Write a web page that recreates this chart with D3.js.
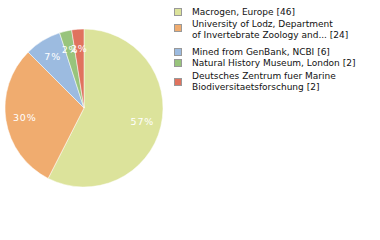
<!DOCTYPE html>
<html>
<head>
<meta charset="utf-8">
<script src="https://cdn.jsdelivr.net/npm/d3@7"></script>
<style>
  body { margin: 0; background: #fff; }
  text { font-family: "DejaVu Sans", sans-serif; }
</style>
</head>
<body>
<script>
width = 380
height = 240

// data
labels = [
  ["Macrogen, Europe [46]"],
  ["University of Lodz, Department", "of Invertebrate Zoology and... [24]"],
  ["Mined from GenBank, NCBI [6]"],
  ["Natural History Museum, London [2]"],
  ["Deutsches Zentrum fuer Marine", "Biodiversitaetsforschung [2]"]
]
counts = [46, 24, 6, 2, 2]
colors = ["#dce39b", "#f0ac6f", "#9cbbe0", "#98c47c", "#e0735e"]

cx = 84
cy = 108
radius = 79

svg = d3.select("body")
    .append("svg")
    .attr("width", width)
    .attr("height", height)

total = d3.sum(counts)
pie = d3.pie().sort(null).value(function(d) { return d; })
arcs = pie(counts)
arc = d3.arc().innerRadius(0).outerRadius(radius)
labelArc = d3.arc().innerRadius(60).outerRadius(60)

g = svg.append("g")
    .attr("transform", "translate(" + cx + "," + cy + ")")

g.selectAll("path")
    .data(arcs)
    .enter()
    .append("path")
    .attr("d", arc)
    .attr("fill", function(d, i) { return colors[i]; })
    .attr("stroke", "#fff")
    .attr("stroke-width", 0.5)

g.selectAll("text.pct")
    .data(arcs)
    .enter()
    .append("text")
    .attr("class", "pct")
    .attr("transform", function(d) { return "translate(" + labelArc.centroid(d) + ")"; })
    .attr("text-anchor", "middle")
    .attr("dy", "0.35em")
    .attr("fill", "#fff")
    .attr("font-size", 9.5)
    .attr("letter-spacing", 0.8)
    .text(function(d) { return Math.floor(d.value / total * 100) + "%"; })

// legend
rowY = [15, 26.5, 55, 66, 79]   // baseline of first line
boxY = [8, 24, 48, 59, 78]

legend = svg.append("g")

legend.selectAll("rect")
    .data(counts)
    .enter()
    .append("rect")
    .attr("x", 174.5)
    .attr("y", function(d, i) { return boxY[i] + 0.5; })
    .attr("width", 7)
    .attr("height", 7)
    .attr("fill", function(d, i) { return colors[i]; })
    .attr("stroke", "#999")
    .attr("stroke-width", 1)

labels.forEach(function(lines, i) {
  t = legend.append("text")
      .attr("x", 192)
      .attr("y", rowY[i])
      .attr("font-size", 9)
      .attr("fill", "#111")
  lines.forEach(function(l, j) {
    t.append("tspan")
      .attr("x", 192)
      .attr("dy", j == 0 ? 0 : 11)
      .text(l)
  })
})
</script>
</body>
</html>
